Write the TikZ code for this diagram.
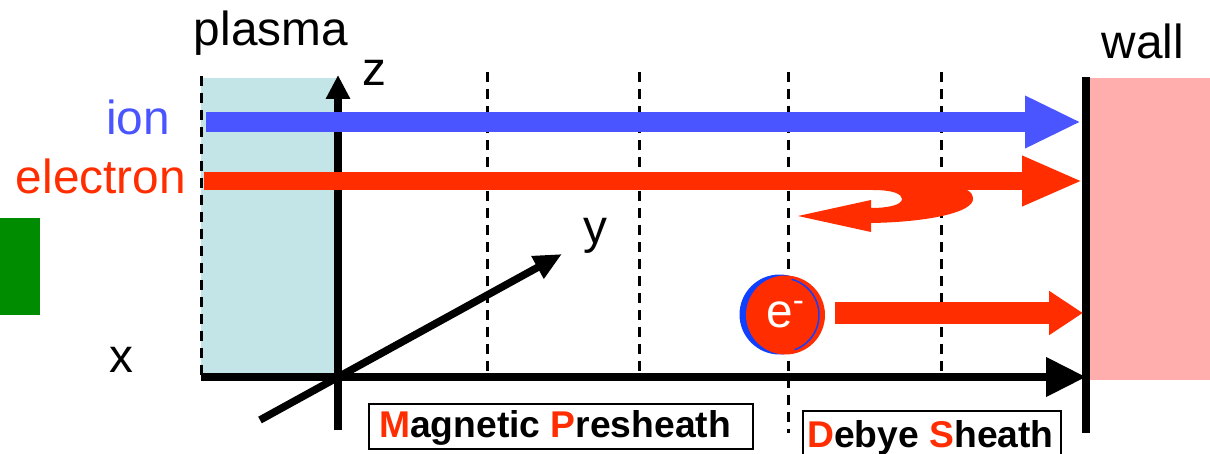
\documentclass[tikz,border=0pt]{standalone}
\usepackage{fontspec}
\setmainfont{Liberation Sans}
\usepackage{xcolor}
\usepackage{tikz}
\usetikzlibrary{shapes,arrows.meta,positioning,calc}
\definecolor{plasmaTeal}{RGB}{196,229,231}
\definecolor{wallPink}{RGB}{255,173,173}
\definecolor{ionBlue}{RGB}{74,85,255}
\definecolor{electronRed}{RGB}{255,45,0}
\definecolor{ringBlue}{RGB}{16,64,255}
\definecolor{barGreen}{RGB}{0,140,0}
\tikzset{
    bigText/.style={anchor=base, inner sep=0pt, font=\fontsize{27.2}{30}\selectfont},
    sheathBox/.style={draw=black, fill=white, line width=0.04cm, anchor=base, inner sep=0pt, align=center, font=\fontsize{21.2}{25}\selectfont\bfseries},
    guideLine/.style={line width=0.06cm, dash pattern=on 0.2cm off 0.14cm},
    axisLine/.style={line width=0.15cm}
}
\begin{document}
\begin{tikzpicture}[x=0.02cm, y=-0.02cm]
    \useasboundingbox (0,0) rectangle (1210,453);
    % background regions
    \node [rectangle, fill=barGreen, anchor=north west, inner sep=0pt, minimum width=0.8cm, minimum height=1.94cm] (bar) at (0,218) {};
    \node [rectangle, fill=plasmaTeal, anchor=north west, inner sep=0pt, minimum width=2.72cm, minimum height=6cm] (plasma) at (201,78) {};
    \node [rectangle, fill=wallPink, anchor=north west, inner sep=0pt, minimum width=2.46cm, minimum height=6.04cm] (wall) at (1087,78) {};

    % guide lines
    \coordinate (g0a) at (201,76);  \coordinate (g0b) at (201,375);
    \coordinate (g1a) at (487,72);  \coordinate (g1b) at (487,375);
    \coordinate (g2a) at (639,72);  \coordinate (g2b) at (639,375);
    \coordinate (g3a) at (788,72);  \coordinate (g3b) at (788,433);
    \coordinate (g4a) at (941,72);  \coordinate (g4b) at (941,375);
    \draw [guideLine] (g0a) -- (g0b);
    \draw [guideLine] (g1a) -- (g1b);
    \draw [guideLine] (g2a) -- (g2b);
    \draw [guideLine] (g3a) -- (g3b);
    \draw [guideLine] (g4a) -- (g4b);

    % axes
    \coordinate (xStart) at (201,377);  \coordinate (xEnd) at (1086,377);
    \coordinate (zStart) at (338,430);  \coordinate (zEnd) at (338,75);
    \coordinate (yStart) at (260,420);  \coordinate (yEnd) at (562,254);
    \coordinate (wallTop) at (1086,77); \coordinate (wallBottom) at (1086,433);
    \draw [axisLine, -{Triangle[length=0.8cm,width=0.76cm]}] (xStart) -- (xEnd);
    \draw [axisLine, -{Triangle[length=0.48cm,width=0.46cm]}] (zStart) -- (zEnd);
    \draw [axisLine, -{Triangle[length=0.56cm,width=0.48cm]}] (yStart) -- (yEnd);
    \draw [line width=0.16cm] (wallTop) -- (wallBottom);

    % particle beams
    \coordinate (ionStart) at (206,122);  \coordinate (ionEnd) at (1081,122);
    \coordinate (elecStart) at (204,181); \coordinate (elecEnd) at (1083,181);
    \coordinate (hitStart) at (835,313);  \coordinate (hitEnd) at (1083,313);
    \draw [ionBlue, line width=0.4cm, -{Triangle[length=1.12cm,width=0.97cm]}] (ionStart) -- (ionEnd);
    \draw [electronRed, line width=0.37cm, -{Triangle[length=1.22cm,width=0.92cm]}] (elecStart) -- (elecEnd);
    \fill [electronRed] (873,190) .. controls (893,190) and (902,194) .. (902,199) .. controls (902,205) and (888,208) .. (871,208) -- (871,200) -- (798,216) -- (871,232) -- (871,223) .. controls (930,222) and (973,212) .. (973,199) .. controls (973,195) and (971,192) .. (967,190) -- cycle;
    \draw [electronRed, line width=0.44cm, -{Triangle[length=0.68cm,width=0.84cm]}] (hitStart) -- (hitEnd);

    % electron disc
    \node [circle, fill=ringBlue, inner sep=0pt, minimum size=1.6cm] (discRing) at (779.5,314.5) {};
    \node [circle, fill=electronRed, inner sep=0pt, minimum size=1.58cm, text=white, font=\fontsize{27.2}{30}\selectfont] (disc) at (785.5,315) {e\textsuperscript{-}};
    \draw [ringBlue, line width=0.03cm] ($(disc.center)+(-3.5,0)$) ++(70:37) arc[start angle=70, end angle=-75, radius=37];

    % labels
    \node [bigText] (plasmaText) at (271,45) {plasma};
    \node [bigText] (zText) at (374,85) {z};
    \node [bigText] (wallText) at (1143,58) {wall};
    \node [bigText, text=ionBlue] (ionText) at (138,134) {ion};
    \node [bigText, text=electronRed] (electronText) at (101,193) {electron};
    \node [bigText] (xText) at (121,372) {x};
    \node [bigText] (yText) at (595,243) {y};
    \node [sheathBox, minimum width=7.68cm, text height=0.66cm, text depth=0.24cm] (presheath) at (561,437) {\textcolor{electronRed}{M}agnetic \textcolor{electronRed}{P}resheath\hspace{0.24cm}};
    \node [sheathBox, minimum width=5.16cm, text height=0.72cm, text depth=0.2cm] (sheath) at (932,447) {\textcolor{electronRed}{D}ebye \textcolor{electronRed}{S}heath\hspace{0.06cm}};
\end{tikzpicture}
\end{document}
